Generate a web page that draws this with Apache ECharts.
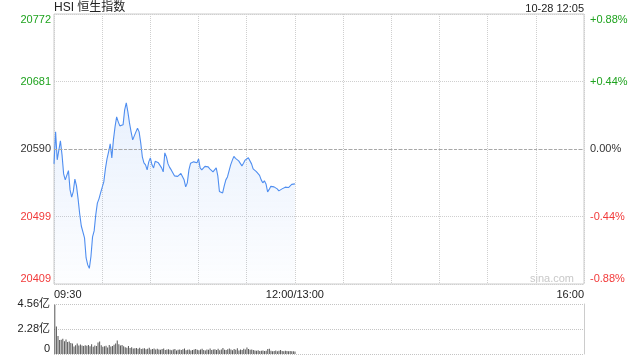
<!DOCTYPE html>
<html><head><meta charset="utf-8">
<script src="https://cdn.jsdelivr.net/npm/echarts@6/dist/echarts.min.js"></script>
<style>html,body{margin:0;padding:0;background:#fff}#c{width:640px;height:360px}</style>
</head><body><div id="c"></div>
<script>
const chartTitle = 'HSI 恒生指数';
const stamp = '10-28 12:05';
const watermark = 'sina.com';
const prevClose = 20590.5;
const priceMin = 20409, priceMax = 20772;
const leftTicks = ['20409', '20499', '20590', '20681', '20772'];
const rightTicks = ['-0.88%', '-0.44%', '0.00%', '+0.44%', '+0.88%'];
const tickColors = ['#f23a3a', '#f23a3a', '#333333', '#1fa31f', '#1fa31f'];
const volTicks = ['0', '2.28亿', '4.56亿'];
const volMax = 4.56;
const xLabelIdx = [0, 150, 330];
const xLabels = ['09:30', '12:00/13:00', '16:00'];

const prices = [
20570.5,20613.5,20576,20578.6,20601.4,20582.6,20557,20549,20546.7,20561.5,
20535.5,20525.7,20533.3,20550,20541,20523.5,20503.3,20487,20484.5,20471,
20444,20434.7,20430,20446,20472.4,20480.4,20502,20517.7,20523.5,20531.5,
20533.3,20546.3,20563.8,20577.2,20586.6,20597.4,20578.6,20602.8,20620.2,20633.7,
20627,20621.6,20621.6,20623,20643.1,20652.5,20640.4,20625.6,20613.5,20602.8,
20602.8,20613.5,20618.5,20613.5,20598.7,20580,20571.9,20569.2,20562.4,20573.2,
20578.6,20569.2,20565.1,20573.9,20575.9,20571.9,20571.9,20565.1,20559.8,20585.3,
20579.9,20570.5,20565.8,20562.4,20559.8,20554.4,20552.6,20553.7,20555.7,20557.7,
20557,20549,20539.6,20545,20562.4,20571.2,20572.5,20573.2,20572.3,20571.9,
20577.2,20565.1,20562.4,20563.4,20567.1,20568.5,20566.5,20563.8,20561.8,20559.8,
20562.4,20565.1,20554.4,20533.3,20530.9,20531.5,20541,20549,20553,20561.1,
20569.2,20575.2,20580.6,20577.9,20575.5,20574.5,20571.9,20567.8,20571.4,20575.6,
20578.2,20578.8,20576.6,20570.5,20563.8,20561.5,20560,20557.7,20555,20549,
20545,20547.7,20543.6,20532.9,20536.2,20540.3,20541.6,20539.6,20541.6,20536.9,
20534.2,20533.5,20536.9,20539.2,20539.2,20538.9,20538.7,20540.3,20542.9,20545.4,
20543.6
];

const volumes = [
4.50,2.50,1.65,1.28,1.30,1.38,1.16,1.33,1.10,1.13,1.00,
0.95,0.68,0.80,0.95,0.77,0.86,0.77,0.72,0.80,0.75,
0.83,0.70,0.88,0.65,0.78,0.72,1.05,1.13,0.80,0.66,
0.70,0.75,0.60,0.82,0.68,0.72,0.85,0.95,1.22,0.90,
0.78,0.82,0.70,0.62,0.58,0.72,0.55,0.62,0.50,0.52,
0.55,0.48,0.58,0.45,0.50,0.52,0.44,0.48,0.56,0.42,
0.45,0.50,0.40,0.47,0.42,0.38,0.45,0.50,0.36,0.40,
0.43,0.38,0.35,0.42,0.45,0.33,0.38,0.40,0.36,0.44,
0.50,0.35,0.38,0.42,0.33,0.36,0.40,0.45,0.38,0.35,
0.40,0.47,0.36,0.33,0.42,0.38,0.50,0.36,0.40,0.44,
0.37,0.48,0.35,0.42,0.55,0.38,0.36,0.43,0.50,0.40,
0.35,0.45,0.38,0.52,0.33,0.40,0.36,0.47,0.42,0.60,
0.45,0.38,0.40,0.36,0.33,0.30,0.35,0.28,0.30,0.33,
0.27,0.30,0.45,0.48,0.30,0.26,0.28,0.32,0.25,0.30,
0.36,0.28,0.26,0.30,0.28,0.25,0.27,0.24,0.26,0.22
];

// trading-minute categories: 09:30-12:00, 13:01-16:00
const times = [];
function hm(t){const h=Math.floor(t/60),m=t%60;return (h<10?'0':'')+h+':'+(m<10?'0':'')+m;}
for (let t = 9*60+30; t <= 12*60; t++) times.push(hm(t));
for (let t = 13*60+1; t <= 16*60; t++) times.push(hm(t));

const FONT = '"Liberation Sans", Arial, "Noto Sans CJK SC", sans-serif';
const chart = echarts.init(document.getElementById('c'), null, {renderer: 'canvas'});
const idx = v => Math.round(Number(v));

chart.setOption({
  animation: false,
  textStyle: {fontFamily: FONT},
  title: [
    {text: chartTitle, left: 54, top: 2, padding: 0,
     textStyle: {fontSize: 12, fontWeight: 'normal', color: '#222', fontFamily: FONT}},
    {text: stamp, right: 56, top: 3, padding: 0,
     textStyle: {fontSize: 11, fontWeight: 'normal', color: '#222', fontFamily: FONT}}
  ],
  graphic: [{
    type: 'text', right: 66, top: 273,
    style: {text: watermark, fill: '#c8c8c8', fontSize: 11, fontFamily: FONT}
  }],
  grid: [
    {left: 54, right: 56, top: 14, height: 270, show: true, borderColor: '#cccccc', borderWidth: 1},
    {left: 54, right: 56, top: 304, height: 50}
  ],
  xAxis: [
    {type: 'category', gridIndex: 0, data: times, boundaryGap: false,
     axisLine: {show: false}, axisTick: {show: false},
     splitLine: {show: true, interval: (i) => i % 30 === 0, lineStyle: {color: '#cfcfcf', type: 'dotted'}},
     axisLabel: {interval: (i) => xLabelIdx.includes(i),
       formatter: (v, i) => xLabels[xLabelIdx.indexOf(i)],
       color: '#222', fontSize: 11, margin: 5, alignMinLabel: 'left', alignMaxLabel: 'right'}},
    {type: 'category', gridIndex: 1, data: times, boundaryGap: true,
     axisLine: {show: false}, axisTick: {show: false}, axisLabel: {show: false}, splitLine: {show: false}}
  ],
  yAxis: [
    {type: 'value', gridIndex: 0, min: priceMin, max: priceMax, show: false},
    {type: 'value', gridIndex: 0, min: 0, max: 4, interval: 1, position: 'left',
     axisLine: {show: false}, axisTick: {show: false},
     splitLine: {show: true, lineStyle: {color: '#cfcfcf', type: 'dotted'}},
     axisLabel: {formatter: v => leftTicks[idx(v)], color: v => tickColors[idx(v)],
       fontSize: 11, margin: 3, verticalAlignMinLabel: 'bottom', verticalAlignMaxLabel: 'top'}},
    {type: 'value', gridIndex: 0, min: 0, max: 4, interval: 1, position: 'right',
     axisLine: {show: false}, axisTick: {show: false}, splitLine: {show: false},
     axisLabel: {formatter: v => rightTicks[idx(v)], color: v => tickColors[idx(v)],
       fontSize: 11, margin: 6, verticalAlignMinLabel: 'bottom', verticalAlignMaxLabel: 'top'}},
    {type: 'value', gridIndex: 1, min: 0, max: volMax, interval: volMax / 2, position: 'left',
     axisLine: {show: false}, axisTick: {show: false},
     splitLine: {show: true, lineStyle: {color: '#c4c4c4', type: 'dotted'}},
     axisLabel: {formatter: v => volTicks[Math.round(Number(v) / (volMax / 2))], color: '#222',
       fontSize: 11, margin: 4, verticalAlignMinLabel: 'bottom', verticalAlignMaxLabel: 'middle'}},
    {type: 'value', gridIndex: 1, min: 0, max: volMax, position: 'right',
     axisLine: {show: true, lineStyle: {color: '#cccccc'}}, axisTick: {show: false},
     axisLabel: {show: false}, splitLine: {show: false}}
  ],
  series: [
    {type: 'line', xAxisIndex: 0, yAxisIndex: 0, data: prices, showSymbol: false,
     lineStyle: {color: '#4f8ef0', width: 1.1},
     areaStyle: {origin: 'start', color: new echarts.graphic.LinearGradient(0, 0, 0, 1, [
       {offset: 0, color: 'rgba(79,142,240,0.18)'}, {offset: 1, color: 'rgba(79,142,240,0.02)'}])},
     markLine: {silent: true, symbol: 'none', label: {show: false},
       lineStyle: {color: '#a8a8a8', type: [3, 2], width: 1},
       data: [{yAxis: prevClose}]}},
    {type: 'bar', xAxisIndex: 1, yAxisIndex: 3, data: volumes, barWidth: 1,
     itemStyle: {color: '#555555'}}
  ]
});
</script>
</body></html>
